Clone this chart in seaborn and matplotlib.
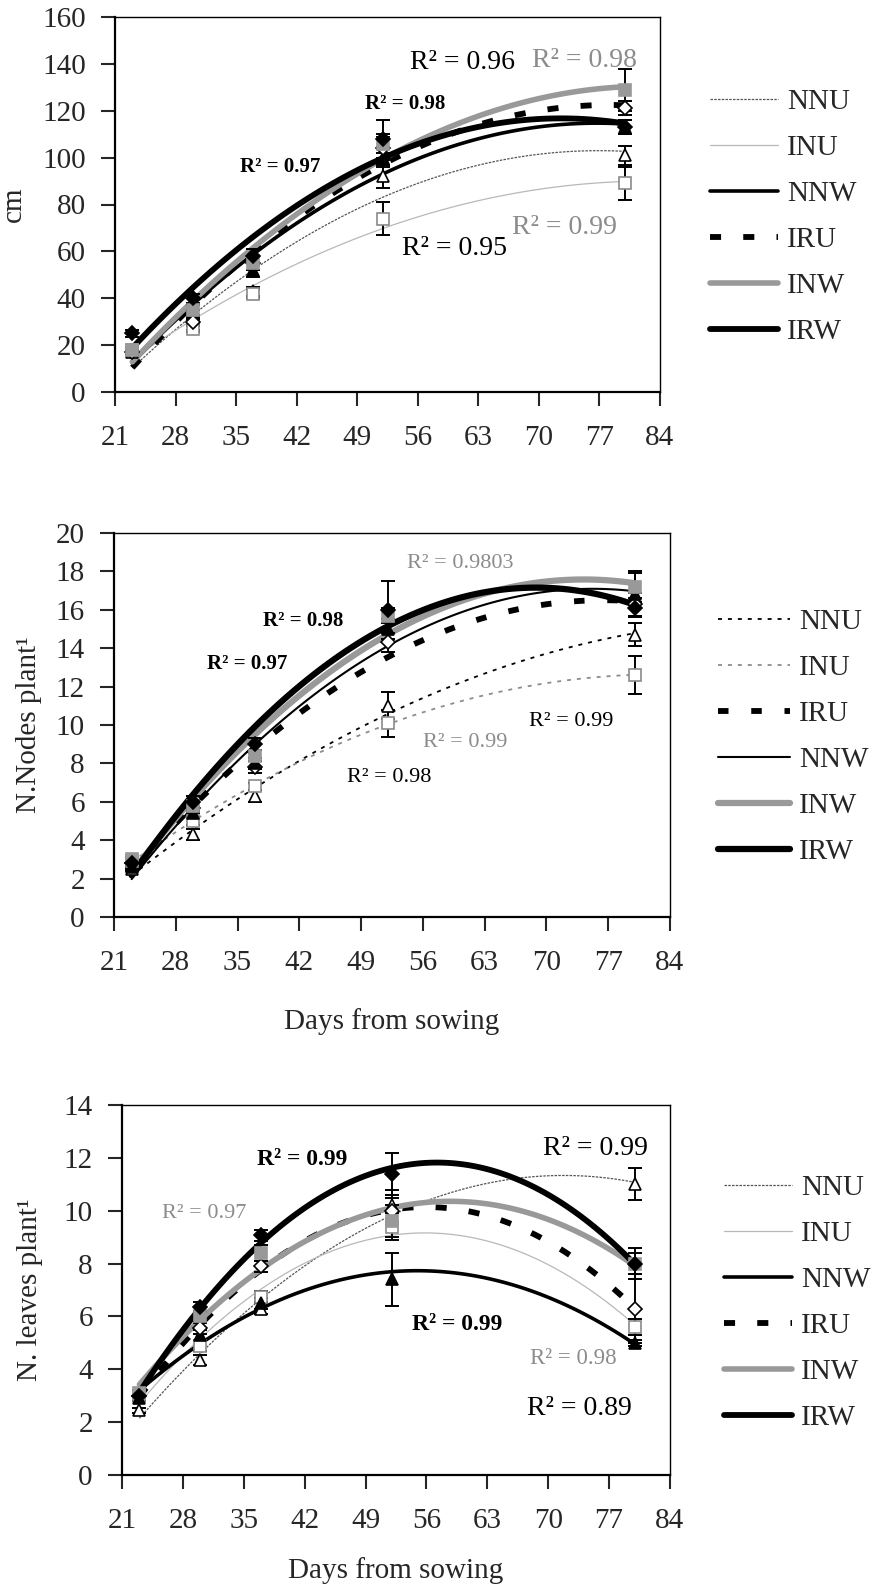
import matplotlib
matplotlib.use("Agg")
import matplotlib.pyplot as plt
import pandas as pd
import seaborn as sns

# ---------------------------------------------------------------- data
days = [23, 30, 37, 52, 80]
x_ticks = [21, 28, 35, 42, 49, 56, 63, 70, 77, 84]

# Plant height (cm), mean and standard error per treatment
height_nnu = [17, 28, 43, 92, 101]
height_inu = [18, 27, 42, 74, 89]
height_nnw = [18, 33, 52, 100, 113]
height_iru = [17, 30, 55, 104, 121]
height_inw = [18, 35, 55, 106, 129]
height_irw = [25, 40, 58, 108, 113]
height_nnu_se = [1, 1.5, 2, 5, 4]
height_inu_se = [1, 1.5, 2, 7, 7]
height_nnw_se = [1, 2, 3, 4, 3]
height_iru_se = [1, 2, 3, 5, 3]
height_inw_se = [1, 2, 3, 4, 9]
height_irw_se = [1.5, 2, 3, 8, 3]

# Number of nodes per plant
nodes_nnu = [2.5, 4.3, 6.3, 11.0, 14.7]
nodes_inu = [2.9, 5.0, 6.8, 10.1, 12.6]
nodes_iru = [2.8, 5.7, 7.8, 14.3, 16.3]
nodes_nnw = [2.6, 5.4, 8.0, 15.0, 16.8]
nodes_inw = [3.0, 5.8, 8.4, 15.7, 17.2]
nodes_irw = [2.8, 6.0, 9.0, 16.0, 16.1]
nodes_nnu_se = [0.1, 0.3, 0.3, 0.7, 0.6]
nodes_inu_se = [0.1, 0.2, 0.2, 0.7, 1.0]
nodes_iru_se = [0.1, 0.3, 0.3, 0.5, 0.6]
nodes_nnw_se = [0.1, 0.3, 0.3, 0.5, 1.1]
nodes_inw_se = [0.1, 0.3, 0.3, 0.4, 0.8]
nodes_irw_se = [0.1, 0.3, 0.3, 1.5, 0.5]

# Number of leaves per plant
leaves_nnu = [2.45, 4.35, 6.3, 10.2, 11.0]
leaves_inu = [3.0, 4.9, 6.75, 9.4, 5.6]
leaves_nnw = [2.9, 5.3, 6.5, 7.4, 5.0]
leaves_iru = [3.0, 5.55, 7.9, 10.0, 6.3]
leaves_inw = [3.1, 6.0, 8.4, 9.6, 8.0]
leaves_irw = [3.0, 6.35, 9.07, 11.4, 8.0]
leaves_nnu_se = [0.1, 0.2, 0.2, 0.6, 0.6]
leaves_inu_se = [0.1, 0.2, 0.2, 0.5, 0.3]
leaves_nnw_se = [0.1, 0.2, 0.2, 1.0, 0.1]
leaves_iru_se = [0.1, 0.2, 0.2, 0.5, 1.3]
leaves_inw_se = [0.1, 0.2, 0.3, 0.6, 0.4]
leaves_irw_se = [0.1, 0.2, 0.2, 0.8, 0.6]

# Coefficients of determination written next to the fitted curves
height_r2 = ["0.97", "0.98", "0.96", "0.98", "0.99", "0.95"]
nodes_r2 = ["0.9803", "0.98", "0.97", "0.99", "0.99", "0.98"]
leaves_r2 = ["0.99", "0.97", "0.99", "0.99", "0.98", "0.89"]

# ---------------------------------------------------------------- styles
BLACK = "#000000"
GRAY = "#999999"
MARK_GRAY = "#8a8a8a"
TXT_GRAY = "#8c8c8c"

markers = {
    "NNU": dict(marker="^", mfc="white", mec=BLACK),
    "INU": dict(marker="s", mfc="white", mec=MARK_GRAY),
    "NNW": dict(marker="^", mfc=BLACK, mec=BLACK),
    "IRU": dict(marker="D", mfc="white", mec=BLACK),
    "INW": dict(marker="s", mfc=GRAY, mec=GRAY),
    "IRW": dict(marker="D", mfc=BLACK, mec=BLACK),
}

lines_thin = {
    "NNU": dict(color="#555555", lw=0.9, ls=(0, (2, 1))),
    "INU": dict(color="#b8b8b8", lw=0.9, ls="-"),
    "NNW": dict(color=BLACK, lw=2.6, ls="-"),
    "IRU": dict(color=BLACK, lw=4.2, ls=(0, (1.9, 3.8))),
    "INW": dict(color=GRAY, lw=4.0, ls="-"),
    "IRW": dict(color=BLACK, lw=4.2, ls="-"),
}
lines_nodes = {
    "NNU": dict(color=BLACK, lw=1.3, ls=(0, (2.2, 3.3))),
    "INU": dict(color=TXT_GRAY, lw=1.3, ls=(0, (2.2, 3.3))),
    "IRU": dict(color=BLACK, lw=4.2, ls=(0, (1.8, 3.9))),
    "NNW": dict(color=BLACK, lw=1.5, ls="-"),
    "INW": dict(color=GRAY, lw=4.5, ls="-"),
    "IRW": dict(color=BLACK, lw=4.5, ls="-"),
}

panels = [
    dict(
        rect=[115 / 873, 1 - 392 / 1588, 545 / 873, 375 / 1588],
        order=["NNU", "INU", "NNW", "IRU", "INW", "IRW"],
        values=dict(NNU=height_nnu, INU=height_inu, NNW=height_nnw,
                    IRU=height_iru, INW=height_inw, IRW=height_irw),
        errors=dict(NNU=height_nnu_se, INU=height_inu_se, NNW=height_nnw_se,
                    IRU=height_iru_se, INW=height_inw_se, IRW=height_irw_se),
        styles=lines_thin,
        ylim=(0, 160), ystep=20,
        ylabel="cm", ylabel_x=-0.185, xlabel=None, xlabel_y=None,
        legend_xy=(710 / 873, 1 - 89 / 1588), handlelength=2.33,
        r2=height_r2,
        r2_spots=[(35.4, 96, BLACK, "bold", 15), (49.9, 123, BLACK, "bold", 15),
                  (55.1, 140.4, BLACK, "normal", 20), (69.2, 141.6, TXT_GRAY, "normal", 20),
                  (66.9, 70.4, TXT_GRAY, "normal", 20), (54.2, 61.4, BLACK, "normal", 20)],
    ),
    dict(
        rect=[114 / 873, 1 - 917 / 1588, 556 / 873, 384 / 1588],
        order=["NNU", "INU", "IRU", "NNW", "INW", "IRW"],
        values=dict(NNU=nodes_nnu, INU=nodes_inu, IRU=nodes_iru,
                    NNW=nodes_nnw, INW=nodes_inw, IRW=nodes_irw),
        errors=dict(NNU=nodes_nnu_se, INU=nodes_inu_se, IRU=nodes_iru_se,
                    NNW=nodes_nnw_se, INW=nodes_inw_se, IRW=nodes_irw_se),
        styles=lines_nodes,
        ylim=(0, 20), ystep=2,
        ylabel="N.Nodes plant\u00b9", ylabel_x=-0.153,
        xlabel="Days from sowing", xlabel_y=-0.271,
        legend_xy=(718 / 873, 1 - 609 / 1588), handlelength=2.47,
        r2=nodes_r2,
        r2_spots=[(54.2, 18.4, TXT_GRAY, "normal", 16), (37.9, 15.4, BLACK, "bold", 15),
                  (31.5, 13.2, BLACK, "bold", 15), (68.0, 10.2, BLACK, "normal", 16),
                  (56.0, 9.1, TXT_GRAY, "normal", 16), (47.4, 7.25, BLACK, "normal", 16)],
    ),
    dict(
        rect=[122 / 873, 1 - 1475 / 1588, 548 / 873, 370 / 1588],
        order=["NNU", "INU", "NNW", "IRU", "INW", "IRW"],
        values=dict(NNU=leaves_nnu, INU=leaves_inu, NNW=leaves_nnw,
                    IRU=leaves_iru, INW=leaves_inw, IRW=leaves_irw),
        errors=dict(NNU=leaves_nnu_se, INU=leaves_inu_se, NNW=leaves_nnw_se,
                    IRU=leaves_iru_se, INW=leaves_inw_se, IRW=leaves_irw_se),
        styles=lines_thin,
        ylim=(0, 14), ystep=2,
        ylabel="N. leaves plant\u00b9", ylabel_x=-0.168,
        xlabel="Days from sowing", xlabel_y=-0.257,
        legend_xy=(724 / 873, 1 - 1175 / 1588), handlelength=2.33,
        r2=leaves_r2,
        r2_spots=[(36.5, 11.92, BLACK, "bold", 17), (25.6, 9.9, TXT_GRAY, "normal", 16),
                  (69.4, 12.37, BLACK, "normal", 20), (54.3, 5.68, BLACK, "bold", 17),
                  (67.9, 4.42, TXT_GRAY, "normal", 16.5), (67.6, 2.53, BLACK, "normal", 20)],
    ),
]

# ---------------------------------------------------------------- figure
sns.set_style("ticks")
plt.rcParams["font.family"] = ["Liberation Serif", "DejaVu Serif"]
plt.rcParams["font.size"] = 21

fig = plt.figure(figsize=(8.73, 15.88), dpi=100)

for p in panels:
    ax = fig.add_axes(p["rect"])
    fit_lines = {}
    for name in p["order"]:
        df = pd.DataFrame({"day": days, "value": p["values"][name],
                           "se": p["errors"][name]})
        st = p["styles"][name]
        n_before = len(ax.lines)
        # second-order polynomial trend line
        sns.regplot(data=df, x="day", y="value", order=2, ci=None, scatter=False,
                    ax=ax, color=st["color"], label=name,
                    line_kws=dict(lw=st["lw"], linestyle=st["ls"], zorder=3))
        fit_lines[name] = ax.lines[n_before]
        mk = markers[name]
        ax.errorbar(df["day"], df["value"], yerr=df["se"], fmt="none",
                    ecolor=BLACK, elinewidth=1.4, capsize=5, capthick=1.4, zorder=4)
        ax.plot(df["day"], df["value"], ls="none", marker=mk["marker"],
                mfc=mk["mfc"], mec=mk["mec"], mew=1.2,
                ms=7.5 if mk["marker"] == "D" else 8.5, zorder=5)

    for label, (tx, ty, col, wt, fs) in zip(p["r2"], p["r2_spots"]):
        ax.text(tx, ty, "R\u00b2 = " + label, color=col, fontweight=wt,
                fontsize=fs, ha="left", va="center", zorder=6)

    ax.set_xlim(21, 84)
    ax.set_xticks(x_ticks)
    lo, hi = p["ylim"]
    ax.set_ylim(lo, hi)
    ax.set_yticks(list(range(lo, hi + 1, p["ystep"])))
    ax.tick_params(axis="both", direction="out", length=10, width=1.5,
                   labelsize=21, top=False, right=False)
    ax.tick_params(axis="x", pad=14)
    ax.tick_params(axis="y", pad=11)
    for side in ("left", "bottom"):
        ax.spines[side].set_linewidth(1.6)
    for side in ("top", "right"):
        ax.spines[side].set_visible(True)
        ax.spines[side].set_linewidth(1.0)
    for s in ax.spines.values():
        s.set_color(BLACK)

    ax.set_ylabel(p["ylabel"], fontsize=21, va="center")
    ax.yaxis.set_label_coords(p["ylabel_x"], 0.5)
    if p["xlabel"]:
        ax.set_xlabel(p["xlabel"], fontsize=21, va="center")
        ax.xaxis.set_label_coords(0.5, p["xlabel_y"])
    else:
        ax.set_xlabel("")

    ax.legend([fit_lines[n] for n in p["order"]], p["order"],
              loc="upper left", bbox_to_anchor=p["legend_xy"],
              bbox_transform=fig.transFigure, frameon=False, borderpad=0,
              borderaxespad=0, handlelength=p["handlelength"],
              handletextpad=0.3, labelspacing=0.67, fontsize=21)

fig.savefig("out.png", dpi=100)
